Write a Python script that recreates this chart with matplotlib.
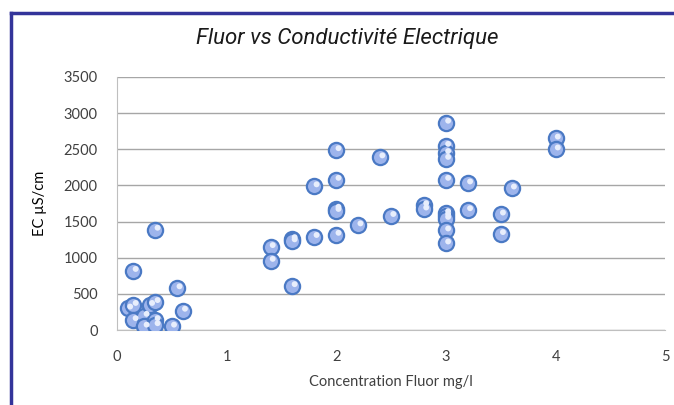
import matplotlib
matplotlib.use('Agg')
import matplotlib.pyplot as plt
from matplotlib.lines import Line2D

# Fluor concentration (mg/l) and electrical conductivity (uS/cm)
fluor = [0.1, 0.15, 0.15, 0.15, 0.25, 0.25, 0.3, 0.35, 0.35, 0.35, 0.35,
         0.5, 0.55, 0.6,
         1.4, 1.4, 1.6, 1.6, 1.6, 1.8, 1.8,
         2.0, 2.0, 2.0, 2.0, 2.0, 2.2, 2.4, 2.5, 2.8, 2.8,
         3.0, 3.0, 3.0, 3.0, 3.0, 3.0, 3.0, 3.0, 3.0, 3.0,
         3.2, 3.2, 3.5, 3.5, 3.6, 4.0, 4.0]
ec = [300, 820, 350, 140, 200, 50, 350, 1390, 390, 140, 70,
      50, 580, 270,
      1150, 960, 1260, 1230, 610, 1990, 1290,
      2490, 2080, 1680, 1650, 1320, 1450, 2390, 1580, 1730, 1670,
      2870, 2550, 2450, 2370, 2080, 1620, 1580, 1540, 1380, 1200,
      2030, 1660, 1600, 1330, 1960, 2650, 2500]

x_ticks = [0, 1, 2, 3, 4, 5]
y_ticks = [0, 500, 1000, 1500, 2000, 2500, 3000, 3500]

title = 'Fluor vs Conductivité Electrique'
x_label = 'Concentration Fluor mg/l'
y_label = 'EC µS/cm'

plt.rcParams['font.family'] = ['Lato', 'DejaVu Sans']

fig = plt.figure(figsize=(6.74, 4.05), dpi=100)
ax = fig.add_axes([0.1736, 0.185, 0.8134, 0.625])

ax.scatter(fluor, ec, s=120, facecolor='#9db4ec', edgecolor='#4a79c4',
           linewidth=1.6, zorder=3)
# small glossy highlight
ax.scatter([f + 0.02 for f in fluor], [e + 25 for e in ec], s=18,
           facecolor='#e8eefc', edgecolor='none', zorder=4)

ax.set_xlim(0, 5)
ax.set_ylim(0, 3500)
ax.set_xticks(x_ticks)
ax.set_yticks(y_ticks)
ax.yaxis.grid(True, color='#a6a6a6', linewidth=1)
ax.set_axisbelow(True)
for side in ['top', 'right']:
    ax.spines[side].set_visible(False)
for side in ['left', 'bottom']:
    ax.spines[side].set_color('#bfbfbf')
ax.tick_params(length=0, labelsize=10.5, labelcolor='#404040', pad=14)

ax.set_xlabel(x_label, fontsize=10.5, color='#404040', labelpad=8)
ax.set_ylabel(y_label, fontsize=10.5, color='#000000', labelpad=12)

fig.text(0.515, 0.905, title, ha='center', va='center', fontsize=16,
         style='italic', color='#1a1a1a', family=['Roboto', 'DejaVu Sans'])

# dark blue frame (top and left)
fig.add_artist(Line2D([0.016, 1.0], [0.967, 0.967], color='#33349a',
                      linewidth=2.5, transform=fig.transFigure))
fig.add_artist(Line2D([0.016, 0.016], [0.0, 0.967], color='#33349a',
                      linewidth=2.5, transform=fig.transFigure))

fig.savefig('out.png', dpi=100)
